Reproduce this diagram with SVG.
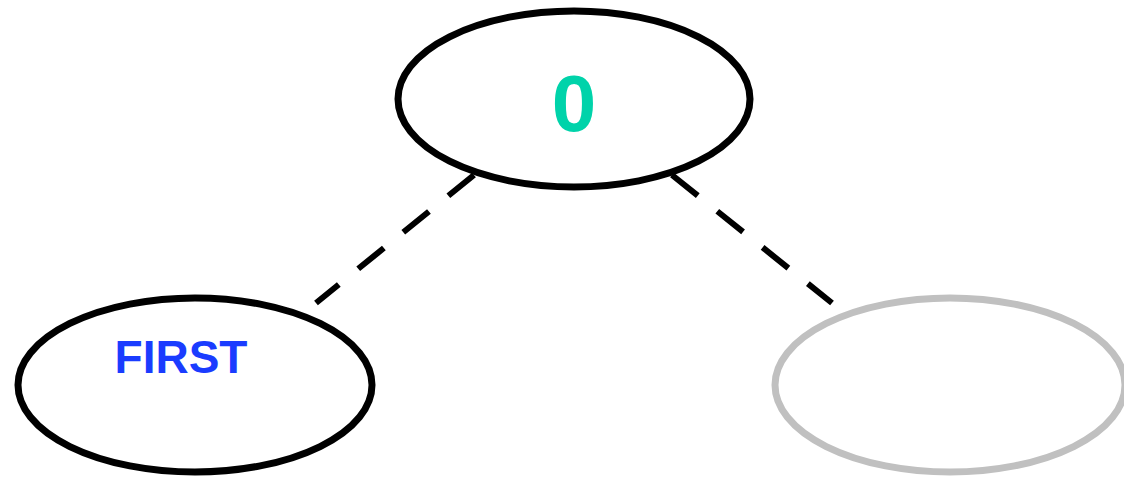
<svg xmlns="http://www.w3.org/2000/svg" width="1124" height="481" viewBox="0 0 1124 481">
<style>
.node{fill:#ffffff;stroke-width:7}
.edge{stroke:#000;stroke-width:6;stroke-dasharray:33 25;fill:none}
.lbl{font-family:"Comic Sans MS","Liberation Sans",sans-serif;font-weight:bold;text-anchor:middle}
</style>
<rect width="1124" height="481" fill="#ffffff"/>
<g id="connectors">
<line class="edge" x1="474" y1="175" x2="316" y2="303"/>
<line class="edge" x1="672" y1="175" x2="832" y2="303"/>
</g>
<g id="node-root">
<ellipse class="node" cx="574" cy="99" rx="176" ry="88" stroke="#000"/>
<text class="lbl" x="574" y="131" font-size="80" fill="#00D3AA">0</text>
</g>
<g id="node-first">
<ellipse class="node" cx="195" cy="385" rx="177" ry="87" stroke="#000"/>
<text class="lbl" x="181" y="373" font-size="46" fill="#1A3CFF">FIRST</text>
</g>
<g id="node-empty">
<ellipse class="node" cx="950" cy="385" rx="175" ry="87" stroke="#C0C0C0"/>
</g>
</svg>
